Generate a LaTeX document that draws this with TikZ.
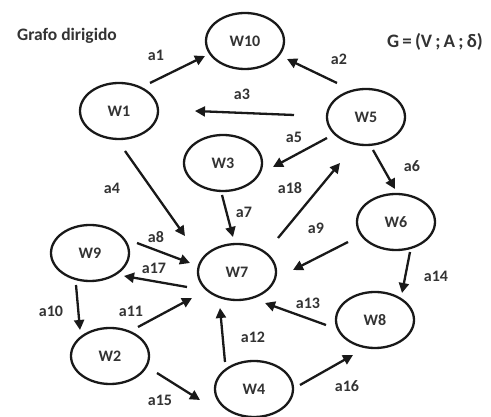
\documentclass[tikz,border=0pt]{standalone}
\usepackage{fontspec}
\setmainfont{Carlito}
\usetikzlibrary{shapes.geometric,arrows.meta,calc}
\begin{document}
\begin{tikzpicture}[x=1pt,y=-1pt,
  vert/.style={draw=black!90, line width=2.3pt, ellipse, minimum width=78pt, minimum height=56pt, inner sep=0pt, font=\bfseries\fontsize{16}{16}\selectfont, text=black!80},
  arr/.style={draw=black!90, line width=2.3pt, -{Triangle[length=10pt,width=10pt]}},
  lab/.style={font=\bfseries\fontsize{16}{16}\selectfont, text=black!80, inner sep=0pt}]
\useasboundingbox (0,0) rectangle (491,417);
\fill[white] (0,0) rectangle (491,417);
% vertices
\node[vert] (W10) at (245,41) {W10};
\node[vert] (W1) at (119,111) {W1};
\node[vert] (W5) at (366,117) {W5};
\node[vert] (W3) at (223,163) {W3};
\node[vert] (W9) at (90,253) {W9};
\node[vert] (W7) at (237,272) {W7};
\node[vert] (W2) at (110,356) {W2};
\node[vert] (W4) at (254,389) {W4};
\node[vert] (W6) at (396,222) {W6};
\node[vert] (W8) at (375,320) {W8};
% titles
\node[lab, font=\bfseries\fontsize{17.5}{17.5}\selectfont] (title) at (67,36) {Grafo dirigido};
\node[lab, font=\bfseries\fontsize{19}{19}\selectfont] (gdef) at (435,42) {G\,=\,(V\,;\,A\,;\,δ)};
% arcs
\draw[arr] ($(W1)+(31,-28)$) -- ($(W10)+(-40,15)$);
\draw[arr] ($(W5)+(-29,-34)$) -- ($(W10)+(42,18)$);
\draw[arr] ($(W5)+(-72,-2)$) -- ($(W1)+(76,0)$);
\draw[arr] ($(W1)+(6,40)$) -- ($(W7)+(-52,-36)$);
\draw[arr] ($(W5)+(-39,21)$) -- ($(W3)+(50,4)$);
\draw[arr] ($(W5)+(7,33)$) -- ($(W6)+(-1,-33)$);
\draw[arr] ($(W7)+(41,-34)$) -- ($(W5)+(-26,46)$);
\draw[arr] ($(W3)+(-1,32)$) -- ($(W7)+(-4,-35)$);
\draw[arr] ($(W9)+(47,-10)$) -- ($(W7)+(-47,-9)$);
\draw[arr] ($(W7)+(-50,15)$) -- ($(W9)+(34,23)$);
\draw[arr] ($(W9)+(-14,32)$) -- ($(W2)+(-30,-26)$);
\draw[arr] ($(W2)+(28,-29)$) -- ($(W7)+(-45,26)$);
\draw[arr] ($(W2)+(47,17)$) -- ($(W4)+(-54,11)$);
\draw[arr] ($(W4)+(-29,-27)$) -- ($(W7)+(-17,36)$);
\draw[arr] ($(W6)+(-48,20)$) -- ($(W7)+(56,-2)$);
\draw[arr] ($(W6)+(14,30)$) -- ($(W8)+(27,-27)$);
\draw[arr] ($(W8)+(-49,5)$) -- ($(W7)+(28,31)$);
\draw[arr] ($(W4)+(46,-4)$) -- ($(W8)+(-22,35)$);
% arc labels
\node[lab] (la1) at (156,55) {a1};
\node[lab] (la2) at (339,59) {a2};
\node[lab] (la3) at (242,94) {a3};
\node[lab] (la4) at (112,188) {a4};
\node[lab] (la5) at (294,137) {a5};
\node[lab] (la6) at (412,166) {a6};
\node[lab] (la18) at (290,188) {a18};
\node[lab] (la7) at (244,212) {a7};
\node[lab] (la8) at (156,237) {a8};
\node[lab] (la17) at (154,268) {a17};
\node[lab] (la10) at (51,311) {a10};
\node[lab] (la11) at (131,311) {a11};
\node[lab] (la15) at (160,400) {a15};
\node[lab] (la9) at (316,228) {a9};
\node[lab] (la14) at (436,276) {a14};
\node[lab] (la13) at (308,303) {a13};
\node[lab] (la12) at (253,337) {a12};
\node[lab] (la16) at (347,386) {a16};
\end{tikzpicture}
\end{document}
